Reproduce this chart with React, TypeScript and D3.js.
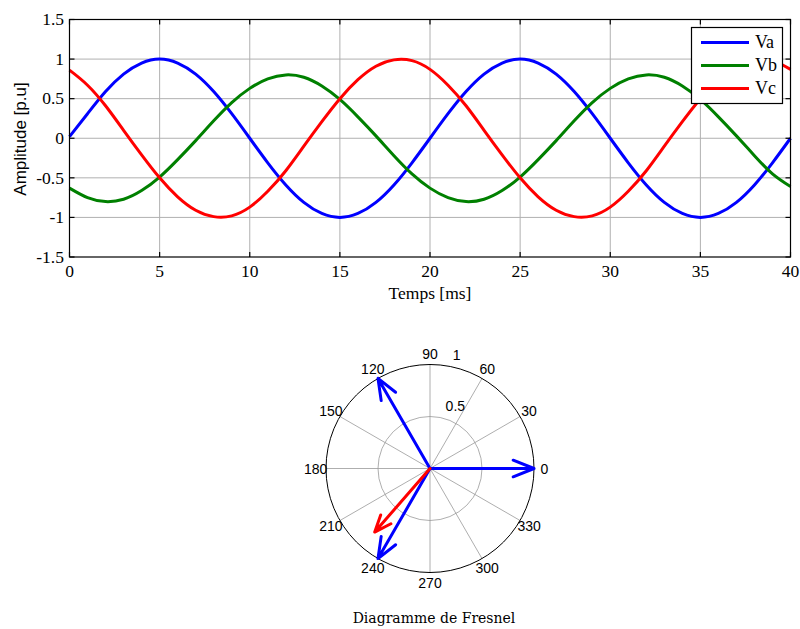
import React from 'react';
import * as d3 from 'd3';

// Sampled three-phase voltages, one sample per millisecond
const TIME_MS = [
  0, 1, 2, 3, 4, 5, 6, 7, 8, 9, 10, 11, 12, 13, 14, 15, 16, 17, 18, 19, 20,
  21, 22, 23, 24, 25, 26, 27, 28, 29, 30, 31, 32, 33, 34, 35, 36, 37, 38, 39, 40,
];
const VA = [
  0.02, 0.31, 0.59, 0.81, 0.95, 1.0, 0.95, 0.81, 0.59, 0.31, 0.0, -0.31, -0.59, -0.81, -0.95, -1.0, -0.95, -0.81, -0.59, -0.31, 0.0,
  0.31, 0.59, 0.81, 0.95, 1.0, 0.95, 0.81, 0.59, 0.31, 0.0, -0.31, -0.59, -0.81, -0.95, -1.0, -0.95, -0.81, -0.59, -0.31, 0.0,
];
const VB = [
  -0.63, -0.75, -0.8, -0.77, -0.66, -0.49, -0.27, -0.03, 0.22, 0.45, 0.63, 0.75, 0.8, 0.77, 0.66, 0.49, 0.27, 0.03, -0.22, -0.45, -0.63,
  -0.75, -0.8, -0.77, -0.66, -0.49, -0.27, -0.03, 0.22, 0.45, 0.63, 0.75, 0.8, 0.77, 0.66, 0.49, 0.27, 0.03, -0.22, -0.45, -0.61,
];
const VC = [
  0.86, 0.67, 0.41, 0.1, -0.21, -0.5, -0.74, -0.91, -0.99, -0.98, -0.87, -0.67, -0.41, -0.1, 0.21, 0.5, 0.74, 0.91, 0.99, 0.98, 0.87,
  0.67, 0.41, 0.1, -0.21, -0.5, -0.74, -0.91, -0.99, -0.98, -0.87, -0.67, -0.41, -0.1, 0.21, 0.5, 0.74, 0.91, 0.99, 0.98, 0.87,
];
const SERIES_NAMES = ['Va', 'Vb', 'Vc'];
const SERIES_COLORS = ['#0000ff', '#008000', '#ff0000'];
const SERIES_VALUES = [VA, VB, VC];

const X_TICKS = [0, 5, 10, 15, 20, 25, 30, 35, 40];
const Y_TICKS = [-1.5, -1, -0.5, 0, 0.5, 1, 1.5];

// Phasor (Fresnel) diagram
const POLAR_ANGLES = [0, 30, 60, 90, 120, 150, 180, 210, 240, 270, 300, 330];
const POLAR_RINGS = [0.5, 1];
const PHASOR_MAG = [1, 1, 1, 0.81];
const PHASOR_DEG = [0, 120, 240, 229];
const PHASOR_COLOR = ['#0000ff', '#0000ff', '#0000ff', '#ff0000'];

const SERIF = '"Liberation Serif", "Times New Roman", serif';
const SANS = '"Liberation Sans", Arial, sans-serif';

export default function App() {
  const x = d3.scaleLinear().domain([0, 40]).range([69.5, 790.5]);
  const y = d3.scaleLinear().domain([-1.5, 1.5]).range([257, 19.5]);
  const line = d3
    .line<number>()
    .x((_, i) => x(TIME_MS[i]))
    .y((d) => y(d))
    .curve(d3.curveNatural);

  const cx = 430;
  const cy = 468.5;
  const r = d3.scaleLinear().domain([0, 1]).range([0, 104]);
  const rad = (deg: number) => (deg * Math.PI) / 180;
  const px = (mag: number, deg: number) => cx + r(mag) * Math.cos(rad(deg));
  const py = (mag: number, deg: number) => cy - r(mag) * Math.sin(rad(deg));

  const x0 = x(0), x1 = x(40), yTop = y(1.5), yBot = y(-1.5);
  const tickLen = 5;

  const legendX = 691.5, legendY = 27.5, legendW = 91, legendH = 76;

  return (
    <svg
      width={800}
      height={629}
      style={{ position: 'absolute', left: 0, top: 0, background: '#fff' }}
    >
      <rect x={0} y={0} width={800} height={629} fill="#fff" />

      {/* grid */}
      <g stroke="#b0b0b0" strokeWidth={1}>
        {X_TICKS.slice(1, -1).map((t) => (
          <line key={'gx' + t} x1={x(t)} x2={x(t)} y1={yTop} y2={yBot} />
        ))}
        {Y_TICKS.slice(1, -1).map((t) => (
          <line key={'gy' + t} x1={x0} x2={x1} y1={y(t)} y2={y(t)} />
        ))}
      </g>

      {/* curves */}
      {SERIES_VALUES.map((vals, i) => (
        <path
          key={SERIES_NAMES[i]}
          d={line(vals) || ''}
          fill="none"
          stroke={SERIES_COLORS[i]}
          strokeWidth={3}
          strokeLinejoin="round"
        />
      ))}

      {/* axes box and ticks */}
      <g stroke="#000" strokeWidth={1.2}>
        <rect x={x0} y={yTop} width={x1 - x0} height={yBot - yTop} fill="none" />
        {X_TICKS.map((t) => (
          <g key={'tx' + t}>
            <line x1={x(t)} x2={x(t)} y1={yBot} y2={yBot - tickLen} />
            <line x1={x(t)} x2={x(t)} y1={yTop} y2={yTop + tickLen} />
          </g>
        ))}
        {Y_TICKS.map((t) => (
          <g key={'ty' + t}>
            <line x1={x0} x2={x0 + tickLen} y1={y(t)} y2={y(t)} />
            <line x1={x1} x2={x1 - tickLen} y1={y(t)} y2={y(t)} />
          </g>
        ))}
      </g>

      <g fontFamily={SERIF} fontSize={17.5} fill="#000">
        {X_TICKS.map((t) => (
          <text key={'lx' + t} x={x(t)} y={277} textAnchor="middle">
            {t}
          </text>
        ))}
        {Y_TICKS.map((t) => (
          <text key={'ly' + t} x={64} y={y(t)} dy="0.33em" textAnchor="end">
            {t}
          </text>
        ))}
        <text x={(x0 + x1) / 2} y={299} textAnchor="middle">
          Temps [ms]
        </text>
      </g>
      <text
        transform={`translate(25.5,139) rotate(-90)`}
        textAnchor="middle"
        fontFamily={SANS}
        fontSize={17}
        fill="#000"
      >
        Amplitude [p.u]
      </text>

      {/* legend */}
      <g>
        <rect x={legendX} y={legendY} width={legendW} height={legendH} fill="#fff" stroke="#000" strokeWidth={1.2} />
        {SERIES_NAMES.map((name, i) => {
          const ly = 42.5 + i * 23;
          return (
            <g key={'lg' + name}>
              <line x1={701} x2={749} y1={ly} y2={ly} stroke={SERIES_COLORS[i]} strokeWidth={3} />
              <text x={755} y={ly} dy="0.33em" fontFamily={SERIF} fontSize={18} fill="#000">
                {name}
              </text>
            </g>
          );
        })}
      </g>

      {/* polar grid */}
      <circle cx={cx} cy={cy} r={r(1)} fill="#fff" stroke="none" />
      <g stroke="#999" strokeWidth={0.8}>
        {POLAR_ANGLES.filter((a) => a < 180).map((a) => (
          <line key={'sp' + a} x1={px(1, a)} y1={py(1, a)} x2={px(1, a + 180)} y2={py(1, a + 180)} />
        ))}
        {POLAR_RINGS.filter((v) => v < 1).map((v) => (
          <circle key={'rg' + v} cx={cx} cy={cy} r={r(v)} fill="none" />
        ))}
      </g>
      <circle cx={cx} cy={cy} r={r(1)} fill="none" stroke="#000" strokeWidth={1} />

      <g fontFamily={SANS} fontSize={14} fill="#000">
        {POLAR_ANGLES.map((a) => (
          <text key={'pa' + a} x={px(1.1, a)} y={py(1.1, a)} textAnchor="middle" dominantBaseline="central">
            {a}
          </text>
        ))}
        {POLAR_RINGS.map((v) => (
          <text key={'pr' + v} x={px(v + 0.025, 82) + 8} y={py(v + 0.025, 82) - 3}>
            {v}
          </text>
        ))}
      </g>

      {/* phasors */}
      {PHASOR_MAG.map((m, i) => {
        const a = PHASOR_DEG[i];
        const tipX = px(m, a), tipY = py(m, a);
        const back = 0.8 * m, side = 0.08 * m;
        const hAng = Math.atan2(side, back) * (180 / Math.PI);
        const hLen = Math.hypot(back, side);
        const d = [
          `M${cx},${cy}`,
          `L${tipX},${tipY}`,
          `L${px(hLen, a + hAng)},${py(hLen, a + hAng)}`,
          `M${tipX},${tipY}`,
          `L${px(hLen, a - hAng)},${py(hLen, a - hAng)}`,
        ].join(' ');
        return (
          <path key={'ph' + i} d={d} fill="none" stroke={PHASOR_COLOR[i]} strokeWidth={3} strokeLinecap="round" strokeLinejoin="round" />
        );
      })}

      <text x={434} y={623} textAnchor="middle" fontFamily='"DejaVu Serif", serif' fontSize={14} fill="#000">
        Diagramme de Fresnel
      </text>
    </svg>
  );
}
